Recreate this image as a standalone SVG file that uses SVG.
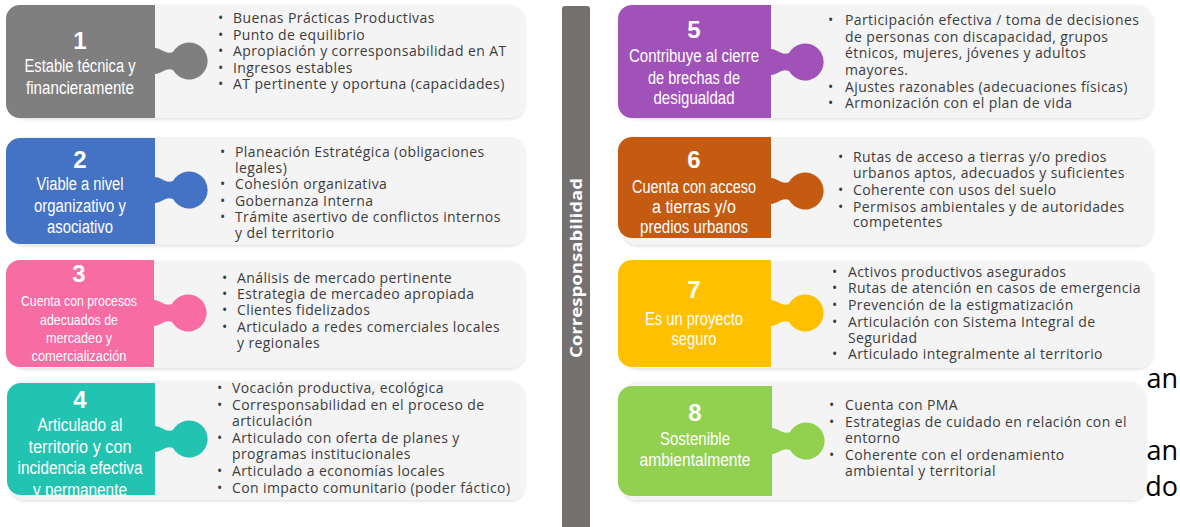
<svg xmlns="http://www.w3.org/2000/svg" width="1180" height="527" viewBox="0 0 1180 527">
<defs>
<style>
.bg{fill:#f4f4f4}
.ttl{font-family:"Liberation Sans",Arial,sans-serif;font-size:18px;fill:#ffffff;text-anchor:middle}
.s15{font-size:15px}
.num{font-family:"Liberation Sans",Arial,sans-serif;font-size:24px;font-weight:bold;fill:#ffffff;text-anchor:middle}
.b{font-family:"Open Sans","Noto Sans",sans-serif;font-size:14px;letter-spacing:0.4px;fill:#3c3c3c}
.side{font-family:"Open Sans","Noto Sans",sans-serif;font-size:16px;font-weight:bold;fill:#ffffff;text-anchor:middle}
.frag{font-family:"Open Sans","Liberation Sans",sans-serif;font-size:27px;fill:#000000;text-anchor:end}
</style>
<filter id="sh" x="-5%" y="-10%" width="110%" height="125%">
<feDropShadow dx="0" dy="1.5" stdDeviation="1.5" flood-color="#000" flood-opacity="0.12"/>
</filter>
<clipPath id="c4"><rect x="0" y="383" width="160" height="112"/></clipPath>
</defs>
<text class="frag" x="1178" y="388">an</text>
<text class="frag" x="1178" y="460">an</text>
<text class="frag" x="1178" y="496">do</text>
<rect x="0" y="0" width="1145" height="527" fill="#ffffff"/>

<g id="bar">
<rect x="562" y="6" width="28" height="530" rx="3" fill="#767171"/>
<text class="side" transform="translate(582,268) rotate(-90)" textLength="180" lengthAdjust="spacingAndGlyphs">Corresponsabilidad</text>
</g>

<g id="node1">
<rect class="bg" x="10" y="5" width="515" height="113" rx="15" filter="url(#sh)"/>
<path fill="#7f7f7f" d="M20,5 H155 V48 C161,48 166,55 173,52 A18.5,18.5 0 1 1 173,70 C166,67 161,74 155,74 V118 H20 A14,14 0 0 1 6,104 V19 A14,14 0 0 1 20,5 Z"/>
<text class="num" x="80" y="49">1</text>
<text class="ttl" x="80" y="72" textLength="111" lengthAdjust="spacingAndGlyphs">Estable técnica y</text>
<text class="ttl" x="80" y="94" textLength="108" lengthAdjust="spacingAndGlyphs">financieramente</text>
<g class="b">
<text x="218" y="23">•</text><text x="233" y="23">Buenas Prácticas Productivas</text>
<text x="218" y="40">•</text><text x="233" y="40">Punto de equilibrio</text>
<text x="218" y="56">•</text><text x="233" y="56">Apropiación y corresponsabilidad en AT</text>
<text x="218" y="73">•</text><text x="233" y="73">Ingresos estables</text>
<text x="218" y="89">•</text><text x="233" y="89">AT pertinente y oportuna (capacidades)</text>
</g>
</g>

<g id="node2">
<rect class="bg" x="10" y="137" width="515" height="108" rx="15" filter="url(#sh)"/>
<path fill="#4472c4" d="M20,138 H155 V177 C161,177 166,184 173,181 A18.5,18.5 0 1 1 173,199 C166,196 161,203 155,203 V244 H20 A14,14 0 0 1 6,230 V152 A14,14 0 0 1 20,138 Z"/>
<text class="num" x="80" y="168">2</text>
<text class="ttl" x="80" y="190" textLength="87" lengthAdjust="spacingAndGlyphs">Viable a nivel</text>
<text class="ttl" x="80" y="212" textLength="92" lengthAdjust="spacingAndGlyphs">organizativo y</text>
<text class="ttl" x="80" y="233" textLength="66" lengthAdjust="spacingAndGlyphs">asociativo</text>
<g class="b">
<text x="220" y="157">•</text><text x="235" y="157">Planeación Estratégica (obligaciones</text>
<text x="235" y="173">legales)</text>
<text x="220" y="189">•</text><text x="235" y="189">Cohesión organizativa</text>
<text x="220" y="206">•</text><text x="235" y="206">Gobernanza Interna</text>
<text x="220" y="222">•</text><text x="235" y="222">Trámite asertivo de conflictos internos</text>
<text x="235" y="238">y del territorio</text>
</g>
</g>

<g id="node3">
<rect class="bg" x="10" y="261" width="515" height="107" rx="15" filter="url(#sh)"/>
<path fill="#f66ca3" d="M20,260 H154 V300 C160,300 165,307 172,304 A18.5,18.5 0 1 1 172,322 C165,319 160,326 154,326 V367 H20 A14,14 0 0 1 6,353 V274 A14,14 0 0 1 20,260 Z"/>
<text class="num" x="79" y="282">3</text>
<text class="ttl s15" x="79" y="306" textLength="116" lengthAdjust="spacingAndGlyphs">Cuenta con procesos</text>
<text class="ttl s15" x="79" y="325" textLength="78" lengthAdjust="spacingAndGlyphs">adecuados de</text>
<text class="ttl s15" x="79" y="343" textLength="66" lengthAdjust="spacingAndGlyphs">mercadeo y</text>
<text class="ttl s15" x="79" y="361" textLength="95" lengthAdjust="spacingAndGlyphs">comercialización</text>
<g class="b">
<text x="222" y="283">•</text><text x="237" y="283">Análisis de mercado pertinente</text>
<text x="222" y="299">•</text><text x="237" y="299">Estrategia de mercadeo apropiada</text>
<text x="222" y="315">•</text><text x="237" y="315">Clientes fidelizados</text>
<text x="222" y="332">•</text><text x="237" y="332">Articulado a redes comerciales locales</text>
<text x="237" y="348">y regionales</text>
</g>
</g>

<g id="node4">
<rect class="bg" x="10" y="381" width="515" height="119" rx="15" filter="url(#sh)"/>
<path fill="#22c4b1" d="M21,383 H155 V426 C161,426 166,433 173,430 A18.5,18.5 0 1 1 173,448 C166,445 161,452 155,452 V495 H21 A14,14 0 0 1 7,481 V397 A14,14 0 0 1 21,383 Z"/>
<text class="num" x="80" y="408">4</text>
<g clip-path="url(#c4)">
<text class="ttl" x="80" y="431" textLength="85" lengthAdjust="spacingAndGlyphs">Articulado al</text>
<text class="ttl" x="80" y="453" textLength="103" lengthAdjust="spacingAndGlyphs">territorio  y con</text>
<text class="ttl" x="80" y="474" textLength="125" lengthAdjust="spacingAndGlyphs">incidencia efectiva</text>
<text class="ttl" x="80" y="496" textLength="94" lengthAdjust="spacingAndGlyphs">y permanente</text>
</g>
<g class="b">
<text x="217" y="393">•</text><text x="232" y="393">Vocación  productiva, ecológica</text>
<text x="217" y="410">•</text><text x="232" y="410">Corresponsabilidad en el proceso de</text>
<text x="232" y="426">articulación</text>
<text x="217" y="443">•</text><text x="232" y="443">Articulado con oferta de planes y</text>
<text x="232" y="459">programas institucionales</text>
<text x="217" y="476">•</text><text x="232" y="476">Articulado a economías locales</text>
<text x="217" y="493">•</text><text x="232" y="493">Con impacto comunitario (poder fáctico)</text>
</g>
</g>

<g id="node5">
<rect class="bg" x="622" y="5" width="531" height="113" rx="15" filter="url(#sh)"/>
<path fill="#a052b8" d="M632,5 H771 V49 C777,49 782,56 789,53 A18.5,18.5 0 1 1 789,71 C782,68 777,75 771,75 V118 H632 A14,14 0 0 1 618,104 V19 A14,14 0 0 1 632,5 Z"/>
<text class="num" x="694" y="38">5</text>
<text class="ttl" x="694" y="62" textLength="130" lengthAdjust="spacingAndGlyphs">Contribuye al cierre</text>
<text class="ttl" x="694" y="84" textLength="92" lengthAdjust="spacingAndGlyphs">de brechas de</text>
<text class="ttl" x="694" y="104" textLength="81" lengthAdjust="spacingAndGlyphs">desigualdad</text>
<g class="b">
<text x="828" y="25">•</text><text x="845" y="25">Participación efectiva / toma de decisiones</text>
<text x="845" y="42">de personas con  discapacidad, grupos</text>
<text x="845" y="58">étnicos, mujeres, jóvenes y adultos</text>
<text x="845" y="75">mayores.</text>
<text x="828" y="92">•</text><text x="845" y="92">Ajustes razonables (adecuaciones físicas)</text>
<text x="828" y="108">•</text><text x="845" y="108">Armonización con el plan de vida</text>
</g>
</g>

<g id="node6">
<rect class="bg" x="622" y="137" width="531" height="108" rx="15" filter="url(#sh)"/>
<path fill="#c55a11" d="M632,137 H771 V178 C777,178 782,185 789,182 A18.5,18.5 0 1 1 789,200 C782,197 777,204 771,204 V238 H632 A14,14 0 0 1 618,224 V151 A14,14 0 0 1 632,137 Z"/>
<text class="num" x="694" y="168">6</text>
<text class="ttl" x="694" y="193" textLength="124" lengthAdjust="spacingAndGlyphs">Cuenta con acceso</text>
<text class="ttl" x="694" y="213" textLength="84" lengthAdjust="spacingAndGlyphs">a tierras y/o</text>
<text class="ttl" x="694" y="233" textLength="108" lengthAdjust="spacingAndGlyphs">predios urbanos</text>
<g class="b">
<text x="838" y="162">•</text><text x="853" y="162">Rutas de acceso a tierras y/o predios</text>
<text x="853" y="178">urbanos aptos, adecuados y suficientes</text>
<text x="838" y="195">•</text><text x="853" y="195">Coherente con usos del suelo</text>
<text x="838" y="212">•</text><text x="853" y="212">Permisos ambientales y de autoridades</text>
<text x="853" y="227">competentes</text>
</g>
</g>

<g id="node7">
<rect class="bg" x="622" y="261" width="531" height="107" rx="15" filter="url(#sh)"/>
<path fill="#ffc000" d="M632,260 H771 V300 C777,300 782,307 789,304 A18.5,18.5 0 1 1 789,322 C782,319 777,326 771,326 V367 H632 A14,14 0 0 1 618,353 V274 A14,14 0 0 1 632,260 Z"/>
<text class="num" x="694" y="298">7</text>
<text class="ttl" x="694" y="325" textLength="98" lengthAdjust="spacingAndGlyphs">Es un proyecto</text>
<text class="ttl" x="694" y="345" textLength="45" lengthAdjust="spacingAndGlyphs">seguro</text>
<g class="b">
<text x="832" y="277">•</text><text x="848" y="277">Activos productivos asegurados</text>
<text x="832" y="293">•</text><text x="848" y="293">Rutas de atención en casos de emergencia</text>
<text x="832" y="310">•</text><text x="848" y="310">Prevención de la estigmatización</text>
<text x="832" y="327">•</text><text x="848" y="327">Articulación con  Sistema Integral de</text>
<text x="848" y="343">Seguridad</text>
<text x="832" y="359">•</text><text x="848" y="359">Articulado integralmente al territorio</text>
</g>
</g>

<g id="node8">
<rect class="bg" x="622" y="382" width="524" height="118" rx="15" filter="url(#sh)"/>
<path fill="#92d050" d="M632,386 H772 V428 C778,428 783,435 790,432 A18.5,18.5 0 1 1 790,450 C783,447 778,454 772,454 V496 H632 A14,14 0 0 1 618,482 V400 A14,14 0 0 1 632,386 Z"/>
<text class="num" x="695" y="421">8</text>
<text class="ttl" x="695" y="445" textLength="70" lengthAdjust="spacingAndGlyphs">Sostenible</text>
<text class="ttl" x="695" y="466" textLength="111" lengthAdjust="spacingAndGlyphs">ambientalmente</text>
<g class="b">
<text x="829" y="410">•</text><text x="845" y="410">Cuenta con PMA</text>
<text x="829" y="427">•</text><text x="845" y="427">Estrategias de cuidado en relación con el</text>
<text x="845" y="443">entorno</text>
<text x="829" y="460">•</text><text x="845" y="460">Coherente con el ordenamiento</text>
<text x="845" y="476">ambiental y territorial</text>
</g>
</g>
</svg>
